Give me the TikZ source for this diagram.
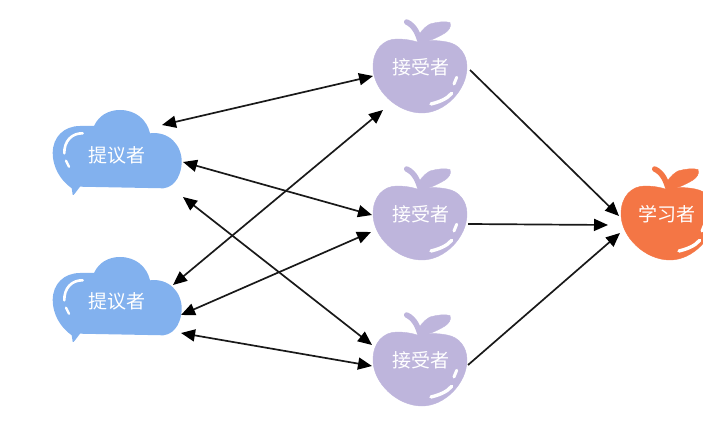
\documentclass[tikz,border=0pt]{standalone}
\usepackage{fontspec}
\newfontfamily\cjk{Noto Sans CJK SC}
\usetikzlibrary{arrows.meta}
\definecolor{cloudblue}{HTML}{82B1EE}
\definecolor{applelilac}{HTML}{BEB5DC}
\definecolor{appleorange}{HTML}{F47645}
\tikzset{
  shine/.style={draw=white,line cap=round,fill=none},
  lab/.style={text=white,font=\cjk\fontsize{19}{20}\selectfont,inner sep=0pt},
  wire/.style={draw=black!90,line width=1.7pt,-{Triangle[length=14pt,width=12pt,black]}},
  biwire/.style={draw=black!90,line width=1.7pt,{Triangle[length=14pt,width=12pt,black]}-{Triangle[length=14pt,width=12pt,black]}},
  speechcloud/.pic={
    \fill[cloudblue] (-72.3,33.3) .. controls (-84,25) and (-91.3,12) .. (-91.3,-2)
      .. controls (-91.3,-18) and (-80,-29) .. (-64,-29) -- (-50,-29)
      .. controls (-45,-40) and (-35,-45) .. (-24,-45)
      .. controls (-8,-45) and (3,-35) .. (6,-21.7)
      .. controls (25,-24) and (37.7,-10) .. (37.7,6.7)
      .. controls (37.7,18) and (32,32) .. (19.3,33.3)
      -- (-64,31.7) -- (-69,38.3) .. controls (-70,40) and (-71,40.5) .. (-71.3,40) -- cycle;
    \draw[shine,line width=2.6pt] (-61.3,-21.7) .. controls (-72,-22) and (-80,-14) .. (-79.7,-1.7);
    \draw[shine,line width=2.4pt] (-78,5.7) -- (-75,11.7);
  },
  fruit/.pic={
    \fill[pic actions] (-48,-1) .. controls (-48,-18) and (-38,-29) .. (-24,-29)
      .. controls (-14,-29) and (-6,-27) .. (-1,-25)
      .. controls (6,-28) and (16,-28) .. (26,-26)
      .. controls (38,-24) and (46,-14) .. (46,-1)
      .. controls (46,22) and (24,45) .. (1,45)
      .. controls (-24,45) and (-48,22) .. (-48,-1) -- cycle;
    \draw[pic actions,fill=none,line width=5.5pt,line cap=round] (-14.3,-46) .. controls (-6,-42) and (-3,-34) .. (-0.3,-24.7);
    \fill[pic actions] (-2,-33) .. controls (2,-40) and (6,-42) .. (9,-44)
      .. controls (16,-46) and (24,-47) .. (29,-45.5)
      .. controls (31,-41) and (27,-37) .. (24,-35)
      .. controls (16,-30) and (8,-27) .. (0.7,-25) -- cycle;
    \draw[shine,line width=3.4pt] (10,36) .. controls (18,34) and (26,31) .. (30.7,25.3);
    \draw[shine,line width=3pt] (33,16) -- (35.7,9.3);
  }
}
\begin{document}
\begin{tikzpicture}[x=1pt,y=-1pt]
\useasboundingbox (0,0) rectangle (703,427);
\clip (0,0) rectangle (703,427);
\pic[fill=applelilac,draw=applelilac] at (421,68) {fruit};
\pic[fill=applelilac,draw=applelilac] at (421,215) {fruit};
\pic[fill=applelilac,draw=applelilac] at (421,361) {fruit};
\pic[fill=appleorange,draw=appleorange] at (669,215) {fruit};
\pic at (144,155) {speechcloud};
\pic at (144,302) {speechcloud};
\node[lab] (pa) at (117,155) {提议者};
\node[lab] (pb) at (117,301) {提议者};
\node[lab] (aa) at (421,67) {接受者};
\node[lab] (ab) at (421,214) {接受者};
\node[lab] (ac) at (421,360) {接受者};
\node[lab] (le) at (667,214) {学习者};
\coordinate (pa1) at (162,125);
\coordinate (pa2) at (183,162);
\coordinate (pa3) at (183,197);
\coordinate (pb1) at (173,285);
\coordinate (pb2) at (181,315);
\coordinate (pb3) at (181,333);
\coordinate (aa1) at (373,76);
\coordinate (aa2) at (383,110);
\coordinate (aa3) at (470,70);
\coordinate (ab1) at (372,215);
\coordinate (ab2) at (371,232);
\coordinate (ab3) at (468,224);
\coordinate (ac1) at (372,345);
\coordinate (ac2) at (372,366);
\coordinate (ac3) at (468,365);
\coordinate (le1) at (619,216);
\coordinate (le2) at (608,225);
\coordinate (le3) at (620,233);
\draw[biwire] (pa1) -- (aa1);
\draw[biwire] (pa2) -- (ab1);
\draw[biwire] (pa3) -- (ac1);
\draw[biwire] (pb1) -- (aa2);
\draw[biwire] (pb2) -- (ab2);
\draw[biwire] (pb3) -- (ac2);
\draw[wire] (aa3) -- (le1);
\draw[wire] (ab3) -- (le2);
\draw[wire] (ac3) -- (le3);
\end{tikzpicture}
\end{document}
